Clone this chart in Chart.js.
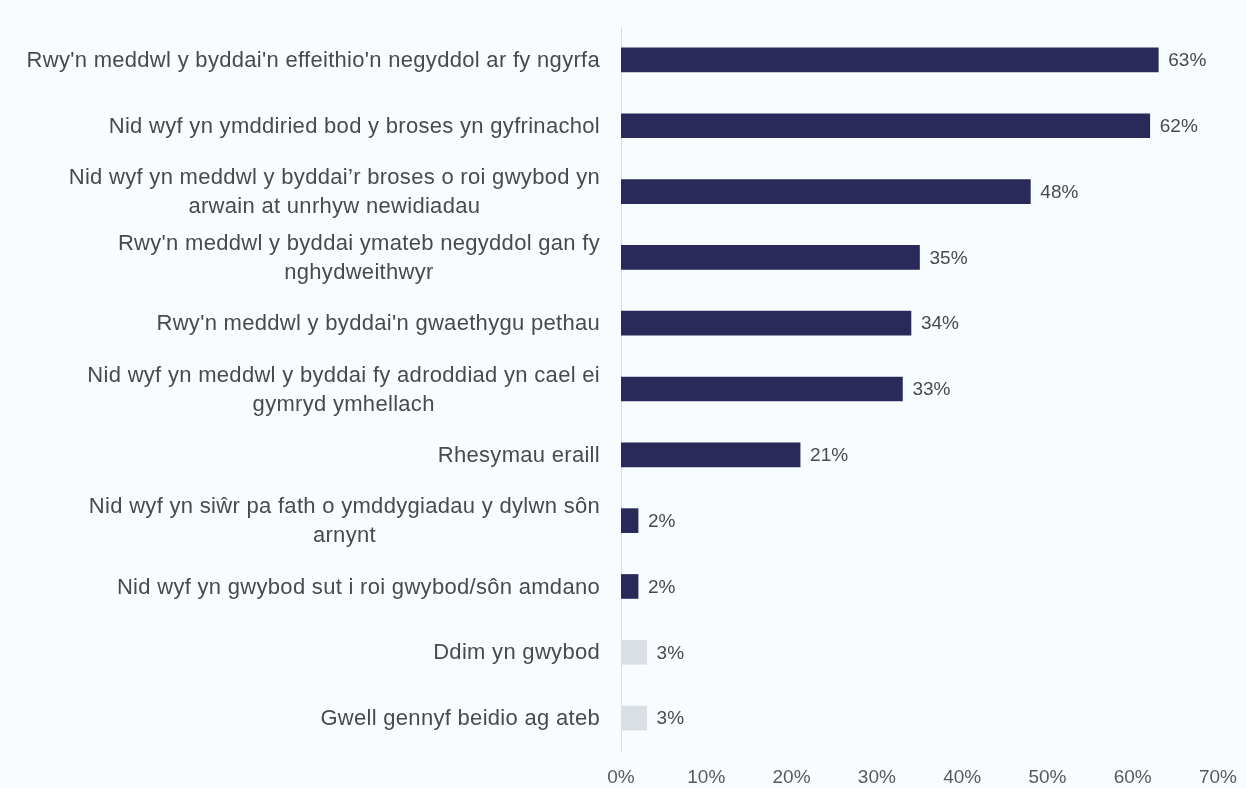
<!DOCTYPE html>
<html>
<head>
<meta charset="utf-8">
<script src="https://cdn.jsdelivr.net/npm/chart.js@4/dist/chart.umd.min.js"></script>
<style>
  html, body { margin: 0; padding: 0; background: #f8fcfe; }
  #wrap { width: 1246px; height: 788px; }
</style>
</head>
<body>
<div id="wrap"><canvas id="chart" width="1246" height="788"></canvas></div>
<script>
// Reasons for not reporting, share of respondents (%)
const categories = [
  ["Rwy'n meddwl y byddai'n effeithio'n negyddol ar fy ngyrfa"],
  ["Nid wyf yn ymddiried bod y broses yn gyfrinachol"],
  ["Nid wyf yn meddwl y byddai’r broses o roi gwybod yn", "arwain at unrhyw newidiadau"],
  ["Rwy'n meddwl y byddai ymateb negyddol gan fy", "nghydweithwyr"],
  ["Rwy'n meddwl y byddai'n gwaethygu pethau"],
  ["Nid wyf yn meddwl y byddai fy adroddiad yn cael ei", "gymryd ymhellach"],
  ["Rhesymau eraill"],
  ["Nid wyf yn siŵr pa fath o ymddygiadau y dylwn sôn", "arnynt"],
  ["Nid wyf yn gwybod sut i roi gwybod/sôn amdano"],
  ["Ddim yn gwybod"],
  ["Gwell gennyf beidio ag ateb"]
];
const values = [63, 62, 48, 35, 34, 33, 21, 2, 2, 3, 3];
const isReason = [true, true, true, true, true, true, true, true, true, false, false];
const xTicks = [0, 10, 20, 30, 40, 50, 60, 70];

const NAVY = '#29295a';
const GREY = '#d9dfe5';
const TEXT = '#4a4a4a';
const FONT = '"Liberation Sans", Arial, sans-serif';

// Category labels: right-aligned block, extra lines centred under the first
const categoryLabels = {
  id: 'categoryLabels',
  afterDraw(chart) {
    const { ctx } = chart;
    const y = chart.scales.y;
    const right = y.right - 21;
    const lineH = 29;
    ctx.save();
    ctx.font = '22px ' + FONT;
    ctx.letterSpacing = '0.3px';
    ctx.fillStyle = TEXT;
    ctx.textBaseline = 'middle';
    ctx.textAlign = 'center';
    categories.forEach((lines, i) => {
      const cy = y.getPixelForTick(i);
      const w = Math.max(...lines.map(l => ctx.measureText(l).width));
      const cx = right - w / 2;
      const y0 = cy - (lines.length - 1) * lineH / 2 + 1;
      lines.forEach((l, k) => ctx.fillText(l, cx, y0 + k * lineH));
    });
    ctx.restore();
  }
};

// Value labels at the end of each bar
const valueLabels = {
  id: 'valueLabels',
  afterDatasetsDraw(chart) {
    const { ctx } = chart;
    const meta = chart.getDatasetMeta(0);
    ctx.save();
    ctx.font = '19px ' + FONT;
    ctx.fillStyle = TEXT;
    ctx.textBaseline = 'middle';
    ctx.textAlign = 'left';
    meta.data.forEach((bar, i) => {
      ctx.fillText(values[i] + '%', bar.x + 10, bar.y + 1);
    });
    ctx.restore();
  }
};

new Chart(document.getElementById('chart'), {
  type: 'bar',
  data: {
    labels: categories,
    datasets: [{
      data: values,
      backgroundColor: isReason.map(r => r ? NAVY : GREY),
      borderWidth: 0,
      barThickness: 24
    }]
  },
  options: {
    indexAxis: 'y',
    responsive: false,
    animation: false,
    layout: { padding: { top: 27, right: 28, left: 0, bottom: 0 } },
    plugins: {
      legend: { display: false },
      tooltip: { enabled: false }
    },
    scales: {
      x: {
        min: 0,
        max: 70,
        afterBuildTicks(scale) { scale.ticks = xTicks.map(v => ({ value: v })); },
        grid: { display: false, drawTicks: false },
        border: { display: false },
        ticks: {
          padding: 15,
          color: '#5a5a5a',
          font: { family: FONT, size: 19 },
          callback: v => v + '%'
        },
        afterFit(scale) {
          scale.height = 37;
          scale.paddingLeft = 0;
          scale.paddingRight = 0;
        }
      },
      y: {
        grid: { display: false, drawTicks: false },
        border: { display: true, color: '#dcdcdc', width: 1 },
        ticks: { color: 'rgba(0,0,0,0)', font: { family: FONT, size: 19 } },
        afterFit(scale) { scale.width = 621; }
      }
    }
  },
  plugins: [valueLabels, categoryLabels]
});
</script>
</body>
</html>
